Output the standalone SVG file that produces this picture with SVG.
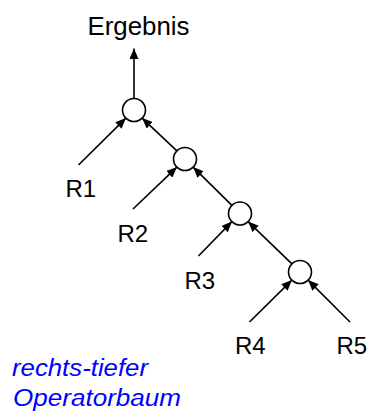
<svg xmlns="http://www.w3.org/2000/svg" width="371" height="414" viewBox="0 0 371 414">
<style>
.lbl{font-family:"Liberation Sans",Arial,sans-serif;font-size:24px;fill:#000}
.note{font-family:"Liberation Sans",Arial,sans-serif;font-size:23px;font-style:italic;fill:#0000FF}
.op{fill:#fff;stroke:#000;stroke-width:1.6}
.edge{stroke:#000;stroke-width:1.6;fill:none;marker-end:url(#ah)}
</style>
<defs>
<marker id="ah" markerUnits="userSpaceOnUse" markerWidth="11" markerHeight="9" refX="10.5" refY="4.5" orient="auto">
<path d="M0,0 L10.5,4.5 L0,9 z" fill="#000"/>
</marker>
</defs>
<rect width="371" height="414" fill="#fff"/>
<g id="connectors">
<line class="edge" x1="134" y1="98.5" x2="134" y2="48.5"/>
<line class="edge" x1="78.5" y1="165" x2="125.9" y2="118.1"/>
<line class="edge" x1="176.9" y1="150.9" x2="142.1" y2="118.1"/>
<line class="edge" x1="133" y1="209" x2="176.9" y2="167.1"/>
<line class="edge" x1="231.9" y1="205.4" x2="193.1" y2="167.1"/>
<line class="edge" x1="198.5" y1="256" x2="231.9" y2="221.6"/>
<line class="edge" x1="291.9" y1="263.9" x2="248.1" y2="221.6"/>
<line class="edge" x1="249.5" y1="322" x2="291.9" y2="280.1"/>
<line class="edge" x1="350" y1="322" x2="308.1" y2="280.1"/>
</g>
<g id="ergebnis"><text class="lbl" x="87.5" y="34.5" style="font-size:25px" textLength="102" lengthAdjust="spacingAndGlyphs">Ergebnis</text></g>
<g id="op1"><circle class="op" cx="134" cy="110" r="11.5"/></g>
<g id="op2"><circle class="op" cx="185" cy="159" r="11.5"/></g>
<g id="op3"><circle class="op" cx="240" cy="213.5" r="11.5"/></g>
<g id="op4"><circle class="op" cx="300" cy="272" r="11.5"/></g>
<g id="R1"><text class="lbl" x="65.5" y="197">R1</text></g>
<g id="R2"><text class="lbl" x="117.5" y="241.5">R2</text></g>
<g id="R3"><text class="lbl" x="184.5" y="289">R3</text></g>
<g id="R4"><text class="lbl" x="235" y="354">R4</text></g>
<g id="R5"><text class="lbl" x="336.5" y="354">R5</text></g>
<g id="caption">
<text class="note" x="12" y="376" textLength="136" lengthAdjust="spacingAndGlyphs">rechts-tiefer</text>
<text class="note" x="13" y="406" textLength="168" lengthAdjust="spacingAndGlyphs">Operatorbaum</text>
</g>
</svg>
